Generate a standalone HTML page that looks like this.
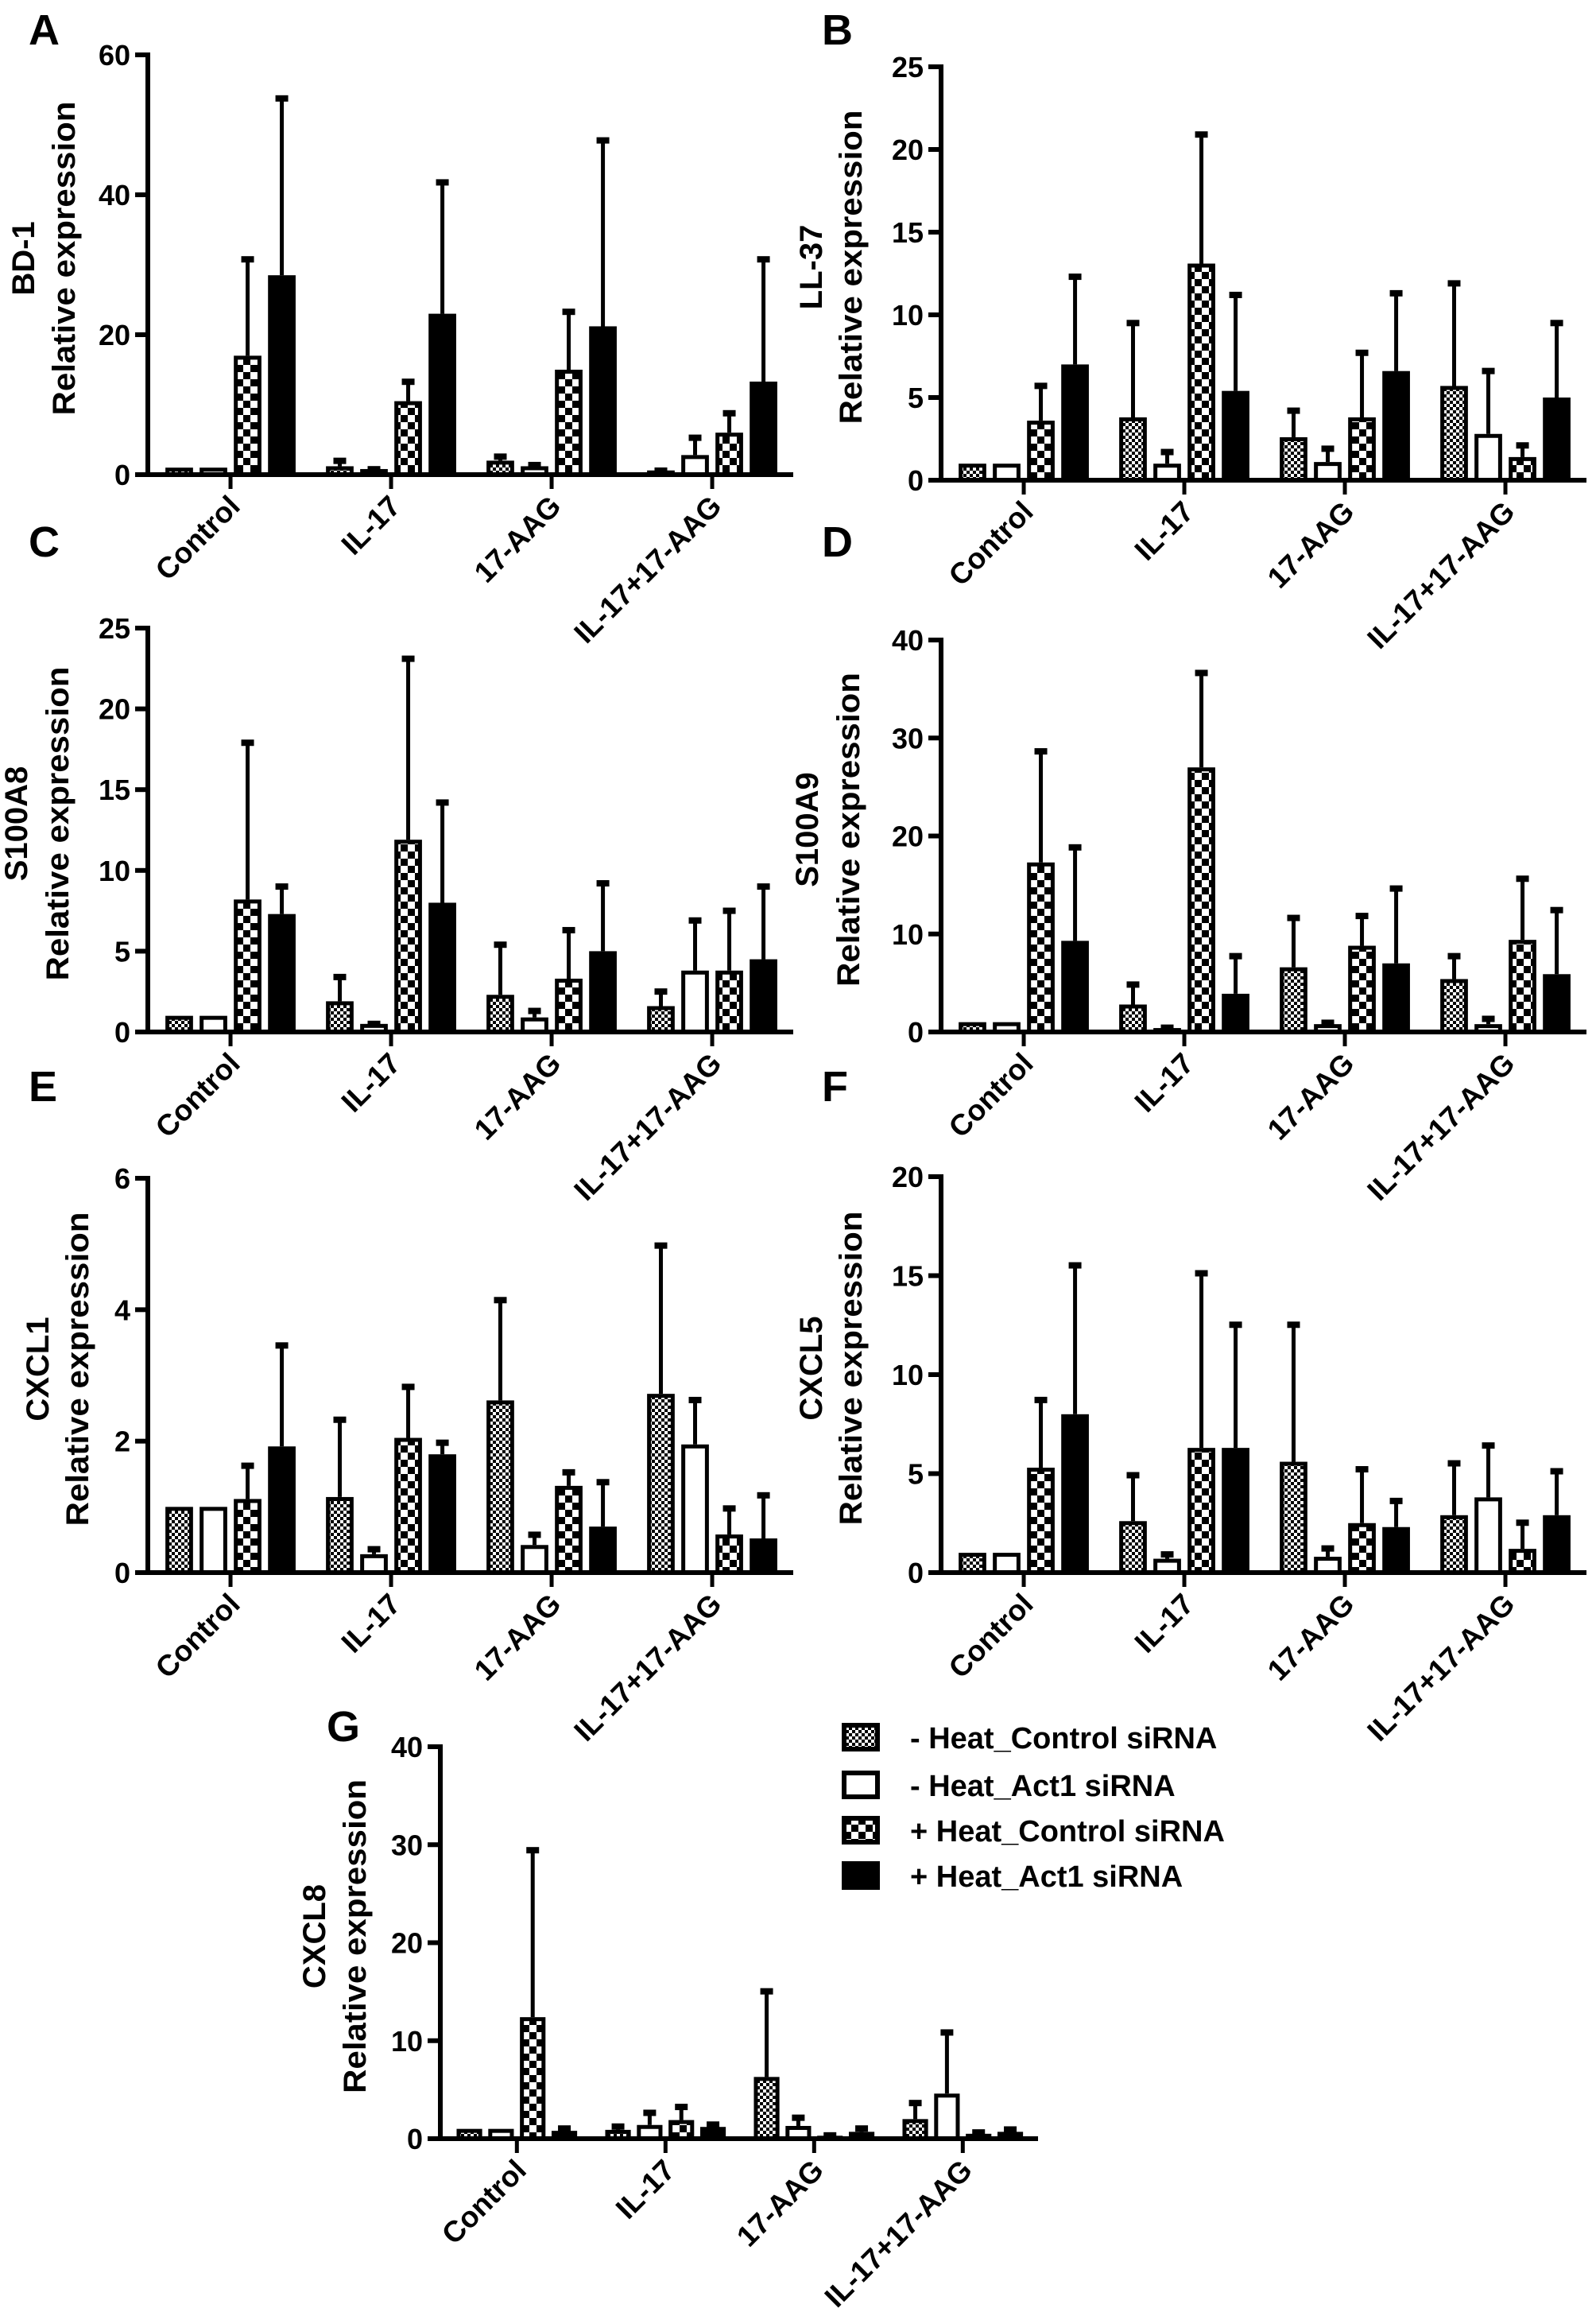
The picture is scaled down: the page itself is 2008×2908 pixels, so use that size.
<!DOCTYPE html>
<html><head><meta charset="utf-8"><style>
html,body{margin:0;padding:0;background:#fff}
svg{display:block}
text{font-family:"Liberation Sans",Arial,sans-serif;font-weight:bold;fill:#000}
</style></head><body>
<svg id="fig" width="2008" height="2908" viewBox="0 0 2008 2908" xmlns="http://www.w3.org/2000/svg">
<defs>
<pattern id="pFine" width="8" height="8" patternUnits="userSpaceOnUse"><rect width="8" height="8" fill="#fff"/><rect width="4" height="4" fill="#000"/><rect x="4" y="4" width="4" height="4" fill="#000"/></pattern>
<pattern id="pCoarse" width="18" height="18" patternUnits="userSpaceOnUse"><rect width="18" height="18" fill="#fff"/><rect width="9" height="9" fill="#000"/><rect x="9" y="9" width="9" height="9" fill="#000"/></pattern>
</defs>
<g id="legend">
<g><rect x="1062" y="2170" width="42" height="30" fill="url(#pFine)" stroke="#000" stroke-width="6"/><text x="1145" y="2199" font-size="38">- Heat_Control siRNA</text></g>
<g><rect x="1062" y="2230" width="42" height="30" fill="#fff" stroke="#000" stroke-width="6"/><text x="1145" y="2259" font-size="38">- Heat_Act1 siRNA</text></g>
<g><rect x="1062" y="2287" width="42" height="30" fill="url(#pCoarse)" stroke="#000" stroke-width="6"/><text x="1145" y="2316" font-size="38">+ Heat_Control siRNA</text></g>
<g><rect x="1062" y="2344" width="42" height="30" fill="#000" stroke="#000" stroke-width="6"/><text x="1145" y="2373" font-size="38">+ Heat_Act1 siRNA</text></g>
</g>
</svg>
<script>
const categories = ["Control", "IL-17", "17-AAG", "IL-17+17-AAG"];
const seriesNames = ["- Heat_Control siRNA", "- Heat_Act1 siRNA", "+ Heat_Control siRNA", "+ Heat_Act1 siRNA"];
// means per group (4 series each), upper error bar tops
const bd1Means = [[1,1,17,28.5],[1.2,0.8,10.5,23],[2,1.2,15,21.2],[0.6,2.8,6,13.3]];
const bd1Tops  = [[1,1,31,54],[2.2,1,13.5,42],[2.8,1.6,23.5,48],[0.8,5.5,9,31]];
const bd1Ticks = [0,20,40,60];
const ll37Means = [[1,1,3.6,7],[3.8,1,13.1,5.4],[2.6,1.1,3.8,6.6],[5.7,2.8,1.4,5]];
const ll37Tops  = [[1,1,5.8,12.4],[9.6,1.8,21,11.3],[4.3,2,7.8,11.4],[12,6.7,2.2,9.6]];
const ll37Ticks = [0,5,10,15,20,25];
const s100a8Means = [[1,1,8.2,7.3],[1.9,0.5,11.9,8],[2.3,0.9,3.3,5],[1.6,3.8,3.8,4.5]];
const s100a8Tops  = [[1,1,18,9.1],[3.5,0.6,23.2,14.3],[5.5,1.4,6.4,9.3],[2.6,7,7.6,9.1]];
const s100a8Ticks = [0,5,10,15,20,25];
const s100a9Means = [[1,1,17.3,9.3],[2.8,0.4,27,3.9],[6.6,0.8,8.8,7],[5.4,0.8,9.4,5.9]];
const s100a9Tops  = [[1,1,28.8,19],[5,0.6,36.8,7.9],[11.8,1.1,12,14.8],[7.9,1.5,15.8,12.6]];
const s100a9Ticks = [0,10,20,30,40];
const cxcl1Means = [[1,1,1.12,1.92],[1.15,0.28,2.05,1.8],[2.62,0.42,1.32,0.7],[2.72,1.95,0.58,0.52]];
const cxcl1Tops  = [[1,1,1.65,3.48],[2.35,0.38,2.85,2],[4.17,0.6,1.55,1.4],[5,2.65,1,1.2]];
const cxcl1Ticks = [0,2,4,6];
const cxcl5Means = [[1,1,5.3,8],[2.6,0.7,6.3,6.3],[5.6,0.8,2.5,2.3],[2.9,3.8,1.2,2.9]];
const cxcl5Tops  = [[1,1,8.8,15.6],[5,1,15.2,12.6],[12.6,1.3,5.3,3.7],[5.6,6.5,2.6,5.2]];
const cxcl5Ticks = [0,5,10,15,20];
const cxcl8Means = [[1,1,12.4,0.8],[0.9,1.4,1.9,1.2],[6.3,1.3,0.3,0.7],[2,4.6,0.5,0.7]];
const cxcl8Tops  = [[1,1,29.6,1.2],[1.4,2.8,3.4,1.6],[15.2,2.3,0.5,1.2],[3.8,11,0.8,1.1]];
const cxcl8Ticks = [0,10,20,30,40];

const NS = "http://www.w3.org/2000/svg";
const svg = document.getElementById('fig');
const fills = ["url(#pFine)", "#fff", "url(#pCoarse)", "#000"];
function mk(tag, attrs, parent) {
  const e = document.createElementNS(NS, tag);
  for (const k in attrs) e.setAttribute(k, attrs[k]);
  parent.appendChild(e);
  return e;
}
function panel(cfg) {
  const g = mk('g', {}, svg);
  
  
  const x0 = cfg.x0, y0 = cfg.y0, yTop = cfg.yTop, S = cfg.S;
  const ticks = cfg.ticks, ymax = ticks[ticks.length - 1];
  const yScale = v => y0 - (v / ymax) * (y0 - yTop);
  const gx = i => x0 + S * 0.515 + i * S;
  const step = S * 0.213, bw = S * 0.172;
  const L = mk('text', {x: cfg.lx, y: cfg.ly, 'font-size': 54}, g);
  L.textContent = cfg.letter;
  
  
  for (let i = 0; i < 4; i++) {
    for (let s = 0; s < 4; s++) {
      const m = cfg.means[i][s], t = cfg.tops[i][s];
      const cx = gx(i) + (s - 1.5) * step;
      const yt = yScale(m);
      if (t > m) {
        const eb = mk('g', {}, g);
        
        
        mk('line', {x1: cx, x2: cx, y1: yt, y2: yScale(t), stroke: '#000', 'stroke-width': 5}, eb);
        mk('rect', {x: cx - 8, y: yScale(t) - 2, width: 16, height: 8, fill: '#000'}, eb);
      }
      const r = mk('rect', {x: cx - bw / 2 + 2.5, y: yt + 2.5, width: bw - 5, height: Math.max(0.5, y0 - yt - 2.5), fill: fills[s], stroke: '#000', 'stroke-width': 5}, g);
      
      
    }
  }
  const ya = mk('line', {x1: x0, x2: x0, y1: yTop - 3, y2: y0 + 3, stroke: '#000', 'stroke-width': 6}, g);
  
  
  const xa = mk('line', {x1: x0 - 3, x2: x0 + 4 * S + 4, y1: y0, y2: y0, stroke: '#000', 'stroke-width': 6}, g);
  
  
  ticks.forEach(v => {
    const y = yScale(v);
    mk('line', {x1: x0 - 16, x2: x0, y1: y, y2: y, stroke: '#000', 'stroke-width': 6}, g);
    const t = mk('text', {x: x0 - 22, y: y + 13, 'font-size': 36, 'text-anchor': 'end'}, g);
    t.textContent = v;
    
    
  });
  categories.forEach((c, i) => {
    const x = gx(i);
    mk('line', {x1: x, x2: x, y1: y0, y2: y0 + 18, stroke: '#000', 'stroke-width': 5}, g);
    const t = mk('text', {x: x + 14, y: y0 + 42, 'font-size': 37, 'text-anchor': 'end', transform: 'rotate(-45 ' + (x + 14) + ' ' + (y0 + 42) + ')'}, g);
    t.textContent = c;
    
    
  });
  const mid = (y0 + yTop) / 2 - 8;
  const t1 = mk('text', {x: x0 + cfg.t1, y: mid, 'font-size': 40, 'text-anchor': 'middle', transform: 'rotate(-90 ' + (x0 + cfg.t1) + ' ' + mid + ')'}, g);
  t1.textContent = cfg.gene;
  
  
  const t2 = mk('text', {x: x0 + cfg.t2, y: mid, 'font-size': 40, 'text-anchor': 'middle', textLength: 395, lengthAdjust: 'spacingAndGlyphs', transform: 'rotate(-90 ' + (x0 + cfg.t2) + ' ' + mid + ')'}, g);
  t2.textContent = 'Relative expression';
  
  
}
panel({key:'bd1', letter:'A', gene:'BD-1', lx:36, ly:56, x0:186, y0:597, yTop:69, S:202, ticks:bd1Ticks, means:bd1Means, tops:bd1Tops, t1:-143, t2:-92});
panel({key:'ll37', letter:'B', gene:'LL-37', lx:1034, ly:56, x0:1184, y0:604, yTop:84, S:202, ticks:ll37Ticks, means:ll37Means, tops:ll37Tops, t1:-150, t2:-100});
panel({key:'s100a8', letter:'C', gene:'S100A8', lx:36, ly:700, x0:186, y0:1298, yTop:790, S:202, ticks:s100a8Ticks, means:s100a8Means, tops:s100a8Tops, t1:-152, t2:-100});
panel({key:'s100a9', letter:'D', gene:'S100A9', lx:1034, ly:700, x0:1184, y0:1298, yTop:805, S:202, ticks:s100a9Ticks, means:s100a9Means, tops:s100a9Tops, t1:-155, t2:-103});
panel({key:'cxcl1', letter:'E', gene:'CXCL1', lx:36, ly:1385, x0:186, y0:1978, yTop:1482, S:202, ticks:cxcl1Ticks, means:cxcl1Means, tops:cxcl1Tops, t1:-125, t2:-75});
panel({key:'cxcl5', letter:'F', gene:'CXCL5', lx:1034, ly:1385, x0:1184, y0:1978, yTop:1480, S:202, ticks:cxcl5Ticks, means:cxcl5Means, tops:cxcl5Tops, t1:-150, t2:-100});
panel({key:'cxcl8', letter:'G', gene:'CXCL8', lx:411, ly:2190, x0:554, y0:2690, yTop:2197, S:187, ticks:cxcl8Ticks, means:cxcl8Means, tops:cxcl8Tops, t1:-145, t2:-94});
</script>
</body></html>
